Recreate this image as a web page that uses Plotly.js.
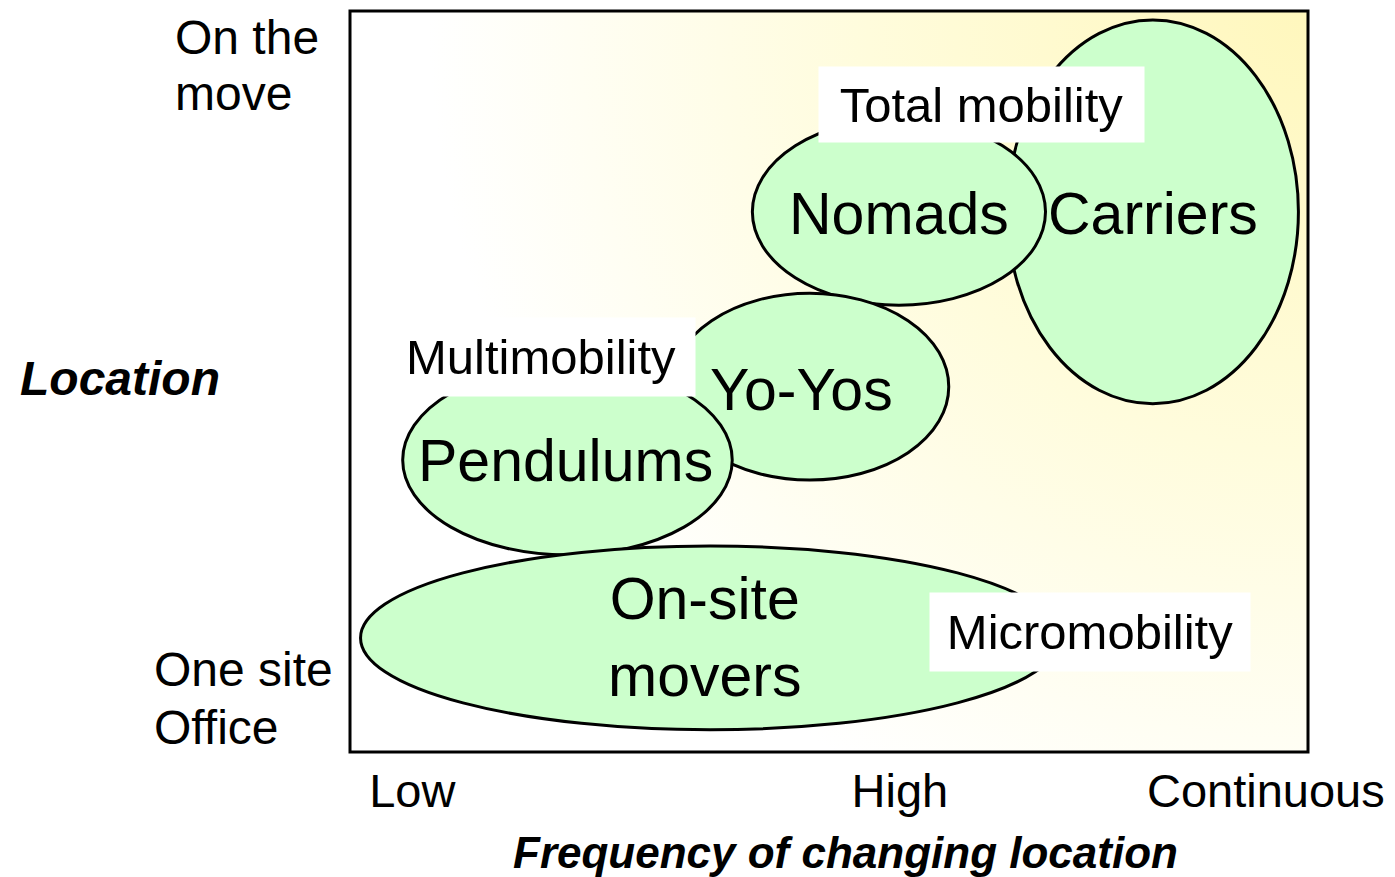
<!DOCTYPE html>
<html><head><meta charset="utf-8">
<script src="https://cdn.plot.ly/plotly-3.0.1.min.js"></script>
<style>html,body{margin:0;padding:0;background:#fff;overflow:hidden}#chart{width:1395px;height:877px}</style>
</head><body><div id="chart"></div>
<script>
// Mobility segments (ellipses): centre and half-extent in diagram units (0-100)
const segments = ["Carriers", "Nomads", "Yo-Yos", "Pendulums", "On-site<br>movers"];
const centerX  = [83.8, 57.3, 48.0, 22.7, 37.6];
const centerY  = [72.9, 72.9, 49.3, 39.4, 15.4];
const radiusX  = [15.2, 15.3, 14.5, 17.2, 36.5];
const radiusY  = [25.9, 12.6, 12.6, 12.8, 12.4];

// Mobility groups (boxed labels)
const groups  = ["Total mobility", "Multimobility", "Micromobility"];
const groupX  = [65.9, 19.9, 77.2];
const groupY  = [87.4, 53.3, 16.2];

// Axis tick labels
const xTickText = ["Low", "High", "Continuous"];
const xTickVals = [6.5, 57.4, 95.6];
const yTickLines = [["On the", "move"], ["One site", "Office"]];

const FONT = "Liberation Sans, Arial, Helvetica, sans-serif";
const L = 350, R = 87, T = 11, B = 125, W = 1395, H = 877;
const PW = W - L - R, PH = H - T - B;
const px2x = p => (p - L) / PW;
const py2y = p => (H - B - p) / PH;

const shapes = [];
const annotations = [];

// frame
shapes.push({type: "rect", xref: "paper", yref: "paper", x0: 0, x1: 1, y0: 0, y1: 1,
  line: {color: "#000", width: 3}, fillcolor: "rgba(0,0,0,0)", layer: "above"});

const labelShiftX = [0, 0, -8, -2, -6];
const labelShiftY = [-2, -2, -3, -1, 0];
segments.forEach((name, i) => {
  shapes.push({type: "circle", xref: "x", yref: "y",
    x0: centerX[i] - radiusX[i], x1: centerX[i] + radiusX[i],
    y0: centerY[i] - radiusY[i], y1: centerY[i] + radiusY[i],
    fillcolor: "#ccffcc", line: {color: "#000", width: 3}, layer: "above"});
  annotations.push({x: centerX[i], y: centerY[i], xref: "x", yref: "y", text: name,
    showarrow: false, font: {family: FONT, size: 59, color: "#000"},
    xshift: labelShiftX[i], yshift: labelShiftY[i],
    xanchor: "center", yanchor: "middle", align: "center"});
});

const boxW = [325, 308, 320], boxH = [75, 78, 78];
groups.forEach((g, i) => {
  annotations.push({x: groupX[i], y: groupY[i], xref: "x", yref: "y", text: g,
    showarrow: false, font: {family: FONT, size: 49, color: "#000"},
    bgcolor: "#ffffff", borderpad: 0, width: boxW[i], height: boxH[i],
    xanchor: "center", yanchor: "middle", align: "center"});
});

// y "tick" labels (left aligned)
const yLinePos = [[37, 94], [669, 727]];
const yLineX = [173, 152];
yTickLines.forEach((lines, i) => {
  lines.forEach((t, j) => {
    annotations.push({x: px2x(yLineX[i]), y: py2y(yLinePos[i][j]), xref: "paper", yref: "paper",
      text: t, showarrow: false, xanchor: "left", yanchor: "middle", align: "left",
      font: {family: FONT, size: 48, color: "#000"}});
  });
});

// axis titles
annotations.push({x: px2x(120), y: py2y(378), xref: "paper", yref: "paper", text: "Location",
  showarrow: false, xanchor: "center", yanchor: "middle",
  font: {family: FONT, size: 48, color: "#000", weight: "bold", style: "italic"}});
annotations.push({x: px2x(845), y: py2y(852), xref: "paper", yref: "paper",
  text: "Frequency of changing location", showarrow: false, xanchor: "center", yanchor: "middle",
  font: {family: FONT, size: 44, color: "#000", weight: "bold", style: "italic"}});

const svg = "<svg xmlns='http://www.w3.org/2000/svg' width='958' height='741' viewBox='0 0 958 741' preserveAspectRatio='none'>" +
  "<defs><radialGradient id='g' gradientUnits='userSpaceOnUse' cx='958' cy='0' r='1100'>" +
  "<stop offset='0' stop-color='#fff7bd'/><stop offset='0.4' stop-color='#fffcdc'/>" +
  "<stop offset='0.8' stop-color='#ffffff'/><stop offset='1' stop-color='#ffffff'/></radialGradient></defs>" +
  "<rect width='958' height='741' fill='url(#g)'/></svg>";

const layout = {
  width: W, height: H,
  margin: {l: L, r: R, t: T, b: B, pad: 0},
  paper_bgcolor: "#ffffff", plot_bgcolor: "rgba(0,0,0,0)",
  showlegend: false,
  xaxis: {range: [0, 100], showgrid: false, zeroline: false, showline: false, ticks: "",
    tickvals: xTickVals, ticktext: xTickText, ticklabelstandoff: 7,
    tickfont: {family: FONT, size: 47, color: "#000"}, fixedrange: true},
  yaxis: {range: [0, 100], showgrid: false, zeroline: false, showline: false, ticks: "",
    showticklabels: false, fixedrange: true},
  images: [{source: "data:image/svg+xml;charset=utf-8," + encodeURIComponent(svg),
    xref: "paper", yref: "paper", x: 0, y: 1, sizex: 1, sizey: 1,
    xanchor: "left", yanchor: "top", sizing: "stretch", layer: "below"}],
  shapes: shapes,
  annotations: annotations
};

Plotly.newPlot("chart", [], layout, {displayModeBar: false, staticPlot: true});
</script></body></html>
